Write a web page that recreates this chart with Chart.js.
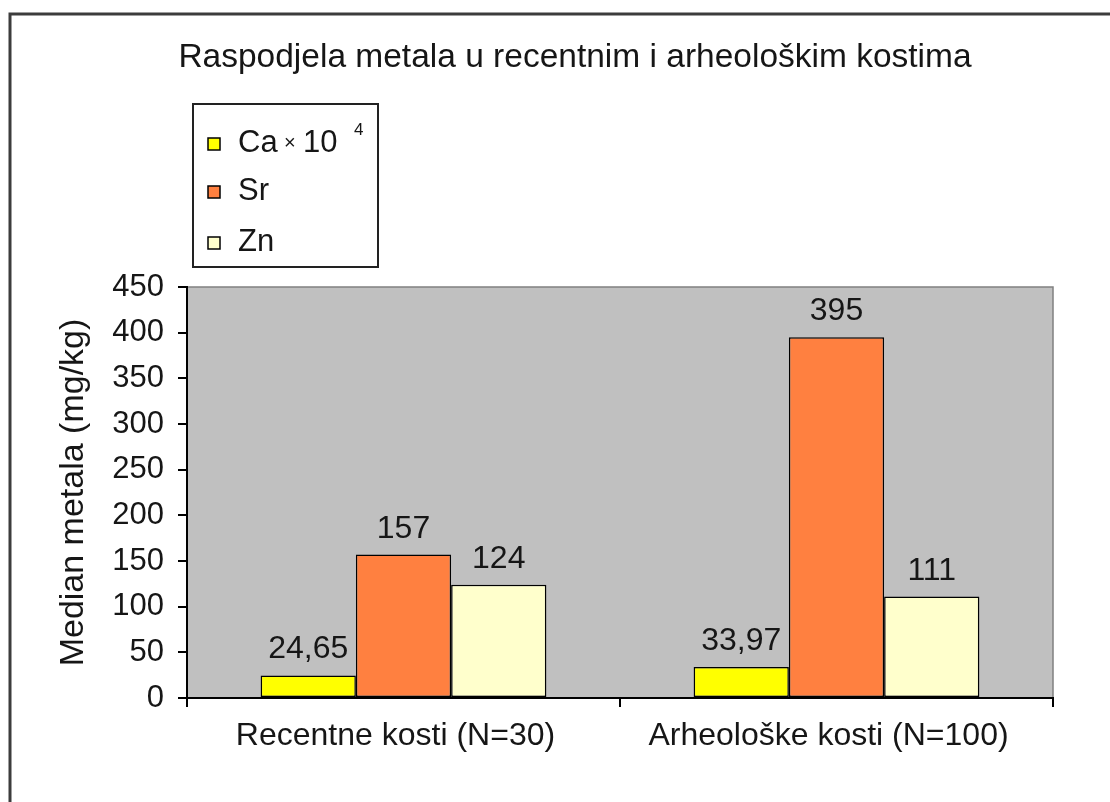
<!DOCTYPE html>
<html>
<head>
<meta charset="utf-8">
<title>Raspodjela metala</title>
<script src="https://cdn.jsdelivr.net/npm/chart.js@4/dist/chart.umd.min.js"></script>
<style>
    html, body { margin: 0; padding: 0; background: #fff; overflow: hidden; }
    #wrap { position: relative; width: 1110px; height: 802px; }
</style>
</head>
<body>
<div id="wrap"><canvas id="metalChart" width="1110" height="802"></canvas></div>
<script>
// Chart data
const chartTitle = 'Raspodjela metala u recentnim i arheološkim kostima';
const categories = ['Recentne kosti (N=30)', 'Arheološke kosti (N=100)'];
const seriesNames = ['Ca', 'Sr', 'Zn'];
const caValues = [24.65, 33.97];   // Ca x 10^4
const srValues = [157, 395];
const znValues = [124, 111];
const yTickValues = [0, 50, 100, 150, 200, 250, 300, 350, 400, 450];
const yAxisTitle = 'Median metala (mg/kg)';

const FONT = "'Liberation Sans', Arial, sans-serif";
const TEXT = '#161616';

// Format numbers with decimal comma (24,65)
function formatValue(v) {
    return String(v).replace('.', ',');
}

// Outer frame + plot background + title
const framePlugin = {
    id: 'frame',
    beforeDraw(chart) {
        const ctx = chart.ctx;
        const a = chart.chartArea;
        ctx.save();
        ctx.fillStyle = '#fff';
        ctx.fillRect(0, 0, chart.width, chart.height);
        ctx.strokeStyle = '#3c3c3c';
        ctx.lineWidth = 3;
        ctx.beginPath();
        ctx.moveTo(10, chart.height);
        ctx.lineTo(10, 14);
        ctx.lineTo(chart.width, 14);
        ctx.stroke();

        ctx.fillStyle = '#c0c0c0';
        ctx.fillRect(a.left, a.top, a.right - a.left, a.bottom - a.top);
        ctx.strokeStyle = '#808080';
        ctx.lineWidth = 1.5;
        ctx.beginPath();
        ctx.moveTo(a.left, a.top);
        ctx.lineTo(a.right, a.top);
        ctx.lineTo(a.right, a.bottom);
        ctx.stroke();

        ctx.fillStyle = TEXT;
        ctx.font = '33.5px ' + FONT;
        ctx.textAlign = 'center';
        ctx.textBaseline = 'alphabetic';
        ctx.fillText(chartTitle, 575, 67);
        ctx.restore();
    }
};

// Value labels above bars
const valueLabels = {
    id: 'valueLabels',
    afterDatasetsDraw(chart) {
        const ctx = chart.ctx;
        ctx.save();
        ctx.fillStyle = TEXT;
        ctx.font = '32px ' + FONT;
        ctx.textAlign = 'center';
        ctx.textBaseline = 'alphabetic';
        chart.data.datasets.forEach((ds, i) => {
            chart.getDatasetMeta(i).data.forEach((bar, j) => {
                ctx.fillText(formatValue(ds.data[j]), bar.x, bar.y - 17);
            });
        });
        ctx.restore();
    }
};

// Boxed legend in the upper left
const boxLegend = {
    id: 'boxLegend',
    afterDraw(chart) {
        const ctx = chart.ctx;
        ctx.save();
        ctx.fillStyle = '#fff';
        ctx.fillRect(193, 104, 185, 163);
        ctx.strokeStyle = '#222';
        ctx.lineWidth = 2;
        ctx.strokeRect(193, 104, 185, 163);

        const baselines = [152, 200, 251];
        chart.data.datasets.forEach((ds, i) => {
            const y = baselines[i];
            ctx.fillStyle = ds.backgroundColor;
            ctx.fillRect(208, y - 14, 12, 12);
            ctx.strokeStyle = '#000';
            ctx.lineWidth = 1.5;
            ctx.strokeRect(208, y - 14, 12, 12);

            ctx.fillStyle = TEXT;
            ctx.textAlign = 'left';
            ctx.textBaseline = 'alphabetic';
            ctx.font = '31px ' + FONT;
            ctx.fillText(ds.label, 238, y);
            if (i === 0) {
                ctx.font = '20px ' + FONT;
                ctx.fillText('\u00d7', 284, y - 3);
                ctx.font = '31px ' + FONT;
                ctx.fillText('10', 303, y);
                ctx.font = '17px ' + FONT;
                ctx.fillText('4', 354, y - 17);
            }
        });
        ctx.restore();
    }
};

new Chart(document.getElementById('metalChart'), {
    type: 'bar',
    data: {
        labels: categories,
        datasets: [
            { label: seriesNames[0], data: caValues, backgroundColor: '#ffff00' },
            { label: seriesNames[1], data: srValues, backgroundColor: '#ff8040' },
            { label: seriesNames[2], data: znValues, backgroundColor: '#ffffcc' }
        ]
    },
    options: {
        responsive: false,
        animation: false,
        layout: {
            padding: { top: 287, right: 57, left: 0, bottom: 0 }
        },
        datasets: {
            bar: {
                categoryPercentage: 0.66,
                barPercentage: 1.0,
                borderColor: '#000',
                borderWidth: 1.5,
                borderSkipped: false
            }
        },
        plugins: {
            legend: { display: false },
            title: { display: false },
            tooltip: { enabled: false }
        },
        scales: {
            x: {
                grid: {
                    offset: true,
                    drawOnChartArea: false,
                    drawTicks: true,
                    tickLength: 9,
                    color: '#000',
                    lineWidth: 2
                },
                border: { color: '#000', width: 2 },
                ticks: {
                    color: TEXT,
                    padding: 10,
                    labelOffset: -8,
                    font: { family: FONT, size: 32 }
                },
                afterFit(scale) {
                    scale.height = 104;
                }
            },
            y: {
                min: 0,
                max: 450,
                afterBuildTicks(scale) {
                    scale.ticks = yTickValues.map(v => ({ value: v }));
                },
                grid: {
                    drawOnChartArea: false,
                    drawTicks: true,
                    tickLength: 9,
                    color: '#000',
                    lineWidth: 2
                },
                border: { color: '#000', width: 2 },
                ticks: {
                    color: TEXT,
                    padding: 14,
                    font: { family: FONT, size: 31 }
                },
                title: {
                    display: true,
                    text: yAxisTitle,
                    color: TEXT,
                    font: { family: FONT, size: 34 },
                    padding: { top: 53, bottom: 0 }
                },
                afterFit(scale) {
                    scale.width = 187;
                }
            }
        }
    },
    plugins: [framePlugin, valueLabels, boxLegend]
});
</script>
</body>
</html>
